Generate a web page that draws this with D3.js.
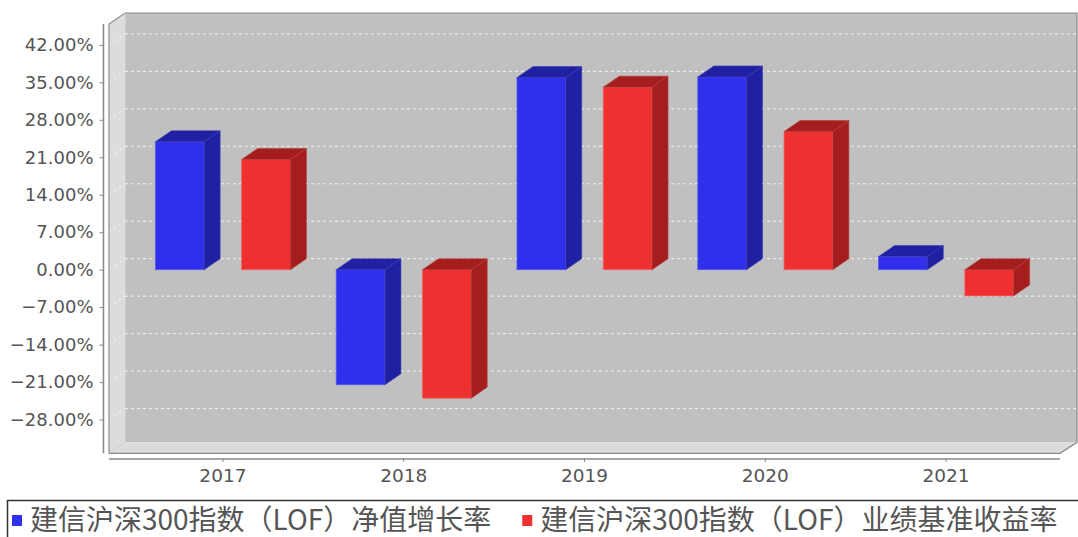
<!DOCTYPE html>
<html><head><meta charset="utf-8">
<script src="https://cdn.jsdelivr.net/npm/d3@7"></script>
<style>html,body{margin:0;padding:0;background:#fff;}svg{display:block;}</style>
</head><body>
<svg id="chart" width="1078" height="537"></svg>
<script>
const categories = ["2017", "2018", "2019", "2020", "2021"];
const seriesNames = ["建信沪深300指数（LOF）净值增长率", "建信沪深300指数（LOF）业绩基准收益率"];
const netGrowth = [23.9, -21.5, 35.9, 36.0, 2.45];
const benchmark = [20.6, -24.0, 34.1, 25.8, -4.9];
const yTicks = [-28, -21, -14, -7, 0, 7, 14, 21, 28, 35, 42];

(function () {
const frontColors = ["#2f2fec", "#ee3030"];
const darkColors = ["#2020a2", "#a41e1e"];

const svg = d3.select("#chart");
const pL = 109, pR = 1060, pT = 24, pB = 453.3;
const dx = 16, dy = 11;

const y = d3.scaleLinear().domain([-34.3, 45.9]).range([pB, pT]);
const x = d3.scaleBand().domain(categories).range([pL, pR]).paddingInner(0).paddingOuter(0.13);
const xs = d3.scaleBand().domain([0, 1]).range([0, x.bandwidth()]).paddingInner(0.435).paddingOuter(0.265);

// back wall
svg.append("rect").attr("x", pL + dx).attr("y", pT - dy).attr("width", pR - pL + 1).attr("height", pB - pT)
  .attr("fill", "#c0c0c0");
// left wall
svg.append("polygon").attr("points", [[pL, pT], [pL + dx, pT - dy], [pL + dx, pB - dy], [pL, pB]].join(" "))
  .attr("fill", "#dcdcdc");
// floor
svg.append("polygon").attr("points", [[pL, pB], [pL + dx, pB - dy], [pR + dx + 1, pB - dy], [pR, pB]].join(" "))
  .attr("fill", "#dcdcdc");

// gridlines
const grid = svg.append("g");
yTicks.forEach(v => {
  const yy = y(v);
  grid.append("line").attr("x1", pL + dx).attr("x2", pR + dx + 1).attr("y1", yy - dy).attr("y2", yy - dy)
    .attr("stroke", "#f2f2f2").attr("stroke-width", 1).attr("stroke-dasharray", "3,3");
  grid.append("line").attr("x1", pL).attr("x2", pL + dx).attr("y1", yy).attr("y2", yy - dy)
    .attr("stroke", "#f4f4f4").attr("stroke-width", 1).attr("stroke-dasharray", "3,3");
});

// outline
svg.append("path")
  .attr("d", `M${pL},${pB} L${pL},${pT} L${pL + dx},${pT - dy} L${pR + dx + 1},${pT - dy} L${pR + dx + 1},${pB - dy} L${pR},${pB} Z`)
  .attr("fill", "none").attr("stroke", "#8a8a8a").attr("stroke-width", 1.2);
svg.append("line").attr("x1", pL + dx).attr("x2", pL + dx).attr("y1", pT - dy).attr("y2", pB - dy)
  .attr("stroke", "#e6e6e6").attr("stroke-width", 0.6);
svg.append("line").attr("x1", pL).attr("x2", pL + dx).attr("y1", pB).attr("y2", pB - dy)
  .attr("stroke", "#c8c8c8").attr("stroke-width", 0.8);

// bars
const series = [netGrowth, benchmark];
const barsG = svg.append("g");
categories.forEach((c, i) => {
  series.forEach((vals, s) => {
    const v = vals[i];
    const x0 = x(c) + xs(s), w = xs.bandwidth();
    const yTop = y(Math.max(v, 0)), yBot = y(Math.min(v, 0));
    const g = barsG.append("g");
    g.append("rect").attr("x", x0).attr("y", yTop).attr("width", w).attr("height", yBot - yTop)
      .attr("fill", frontColors[s]).attr("stroke", s === 0 ? "#5a5af0" : "#f06060").attr("stroke-width", 0.8);
    g.append("polygon").attr("points", [[x0, yTop], [x0 + dx, yTop - dy], [x0 + w + dx, yTop - dy], [x0 + w, yTop]].join(" "))
      .attr("fill", darkColors[s]).attr("stroke", s === 0 ? "#3a3ab8" : "#b83a3a").attr("stroke-width", 0.6);
    g.append("polygon").attr("points", [[x0 + w, yTop], [x0 + w + dx, yTop - dy], [x0 + w + dx, yBot - dy], [x0 + w, yBot]].join(" "))
      .attr("fill", darkColors[s]).attr("stroke", s === 0 ? "#3a3ab8" : "#b83a3a").attr("stroke-width", 0.6);
  });
});

// y axis
const yAxis = d3.axisLeft(y).tickValues(yTicks).tickSize(4).tickPadding(6)
  .tickFormat(d => d3.format(".2f")(d) + "%");
const yg = svg.append("g").attr("transform", "translate(103.5,0)").call(yAxis);
yg.select(".domain").attr("d", `M0,${pT}V${pB}`).attr("stroke", "#888").attr("stroke-width", 1.5);
yg.selectAll(".tick line").attr("stroke", "#888");
yg.selectAll(".tick text").attr("fill", "#555").style("font-family", "DejaVu Sans").style("font-size", "18px");

// x axis
const xAxis = d3.axisBottom(x).tickSize(4).tickPadding(6);
const xg = svg.append("g").attr("transform", "translate(0,459)").call(xAxis);
xg.select(".domain").attr("d", `M${pL},0H${pR}`).attr("stroke", "#888").attr("stroke-width", 1.5);
xg.selectAll(".tick line").attr("stroke", "#888").attr("y1", -1).attr("y2", 3);
xg.selectAll(".tick text").attr("fill", "#555").style("font-family", "DejaVu Sans").style("font-size", "18.5px");

// legend
const lg = svg.append("g");
lg.append("rect").attr("x", 7.5).attr("y", 500.5).attr("width", 1080).attr("height", 60)
  .attr("fill", "#fff").attr("stroke", "#333").attr("stroke-width", 1.5);
let lx = 12;
seriesNames.forEach((name, s) => {
  lg.append("rect").attr("x", lx).attr("y", 515).attr("width", 10).attr("height", 11).attr("fill", frontColors[s]);
  const t = lg.append("text").attr("x", lx + 18).attr("y", 530).text(name)
    .attr("fill", "#555").style("font-family", "Noto Sans CJK SC").style("font-size", "28px");
  lx = lx + 18 + t.node().getComputedTextLength() + 31;
});
})();
</script>
</body></html>
